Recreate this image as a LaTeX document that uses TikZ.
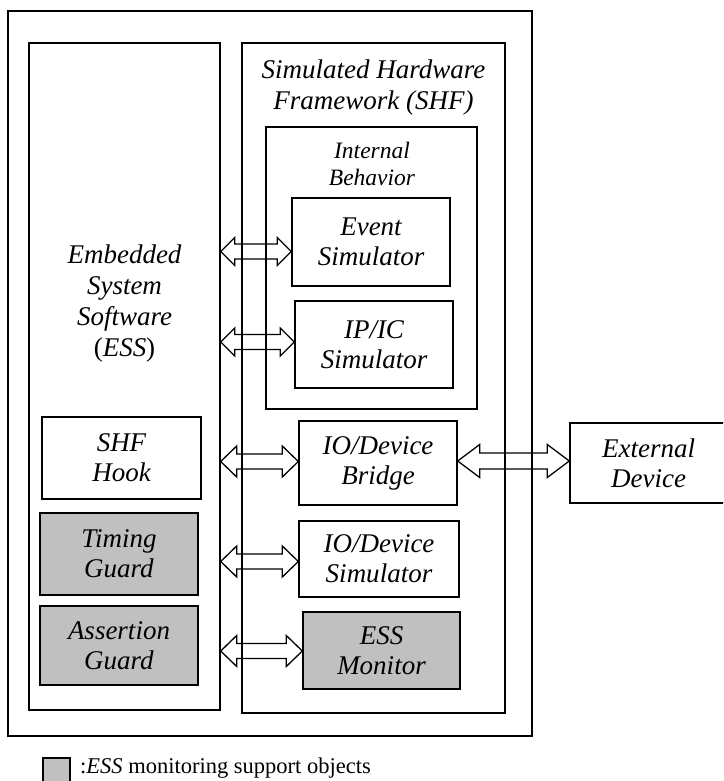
\documentclass[tikz,border=0pt]{standalone}
\usepackage{fontspec}
\setmainfont{Liberation Serif}
\usetikzlibrary{calc}
\definecolor{guardgray}{RGB}{192,192,192}
\tikzset{
  box/.style={draw, line width=1.4pt, inner sep=0pt, align=center,
    font=\itshape\fontsize{27}{30}\selectfont},
  grey/.style={box, fill=guardgray},
  frame/.style={draw, line width=1.4pt, inner sep=0pt},
  lbl/.style={align=center, inner sep=0pt, font=\itshape\fontsize{27}{31}\selectfont},
  arrowline/.style={draw, line width=1.3pt, line join=miter}
}
\newcommand\dblarrow[5]{%
  \draw[arrowline] (#1) -- ($(#1)+(#5,-#4)$) -- ($(#1)+(#5,-#3)$) -- ($(#2)+(-#5,-#3)$)
    -- ($(#2)+(-#5,-#4)$) -- (#2) -- ($(#2)+(-#5,#4)$) -- ($(#2)+(-#5,#3)$)
    -- ($(#1)+(#5,#3)$) -- ($(#1)+(#5,#4)$) -- cycle;}
\begin{document}
\begin{tikzpicture}[x=1pt,y=-1pt]
\useasboundingbox (0,0) rectangle (723,781);
\begin{scope}
\clip (0,0) rectangle (723,781);
% containers
\node[frame, minimum width=524pt, minimum height=725pt] (outer) at (270,373.5) {};
\node[frame, minimum width=191pt, minimum height=667pt] (ess) at (124.5,376.5) {};
\node[frame, minimum width=263pt, minimum height=670pt] (shf) at (373.5,378) {};
\node[frame, minimum width=211pt, minimum height=282pt] (ib) at (371.5,268) {};
% titles
\node[lbl] (esslbl) at (124.5,304) {Embedded\\System\\Software\\{\upshape(}ESS{\upshape)}};
\node[lbl] (shflbl) at (373.5,88) {Simulated Hardware\\Framework (SHF)};
\node[lbl, font=\itshape\fontsize{23.5}{27}\selectfont] (iblbl) at (372,164) {Internal\\Behavior};
% inner boxes
\node[box, minimum width=158pt, minimum height=88pt] (event) at (371,242) {Event\\Simulator};
\node[box, minimum width=158pt, minimum height=87pt] (ipic) at (374,344.5) {IP/IC\\Simulator};
\node[box, minimum width=158pt, minimum height=84pt] (bridge) at (378,463) {IO/Device\\Bridge};
\node[box, minimum width=160pt, minimum height=76pt] (iosim) at (379,559) {IO/Device\\Simulator};
\node[grey, minimum width=157pt, minimum height=77pt] (mon) at (381.5,650.5) {ESS\\Monitor};
\node[box, minimum width=157pt, minimum height=80pt] (ext) at (648.5,463) {External\\Device};
\node[box, minimum width=159pt, minimum height=82pt] (hook) at (121.5,458) {SHF\\Hook};
\node[grey, minimum width=158pt, minimum height=82pt] (timing) at (119,554) {Timing\\Guard};
\node[grey, minimum width=158pt, minimum height=79pt] (assert) at (119,645.5) {Assertion\\Guard};
% arrow end points
\coordinate (a1l) at (ess.east |- 0,251.5);  \coordinate (a1r) at (event.west |- a1l);
\coordinate (a2l) at (ess.east |- 0,342);    \coordinate (a2r) at (ipic.west |- a2l);
\coordinate (a3l) at (ess.east |- 0,461.5);  \coordinate (a3r) at (bridge.west |- a3l);
\coordinate (a4l) at (ess.east |- 0,561.5);  \coordinate (a4r) at (iosim.west |- a4l);
\coordinate (a5l) at (ess.east |- 0,651);    \coordinate (a5r) at (mon.west |- a5l);
\coordinate (a6l) at (bridge.east |- 0,461); \coordinate (a6r) at (ext.west |- a6l);
\dblarrow{a1l}{a1r}{7.5}{14}{14}
\dblarrow{a2l}{a2r}{7.5}{14}{14}
\dblarrow{a3l}{a3r}{7.5}{15.5}{16}
\dblarrow{a4l}{a4r}{7.5}{15.5}{16}
\dblarrow{a5l}{a5r}{7.5}{15.5}{16}
\dblarrow{a6l}{a6r}{8}{16.5}{22}
% legend
\node[draw, line width=1.2pt, fill=guardgray, minimum width=27pt, minimum height=26pt, inner sep=0pt] (legbox) at (56.5,771) {};
\node[anchor=base west, inner sep=0pt, font=\fontsize{22.5}{26}\selectfont] (legtext) at (80,773) {:\textit{ESS} monitoring support objects};
\end{scope}
\end{tikzpicture}
\end{document}
